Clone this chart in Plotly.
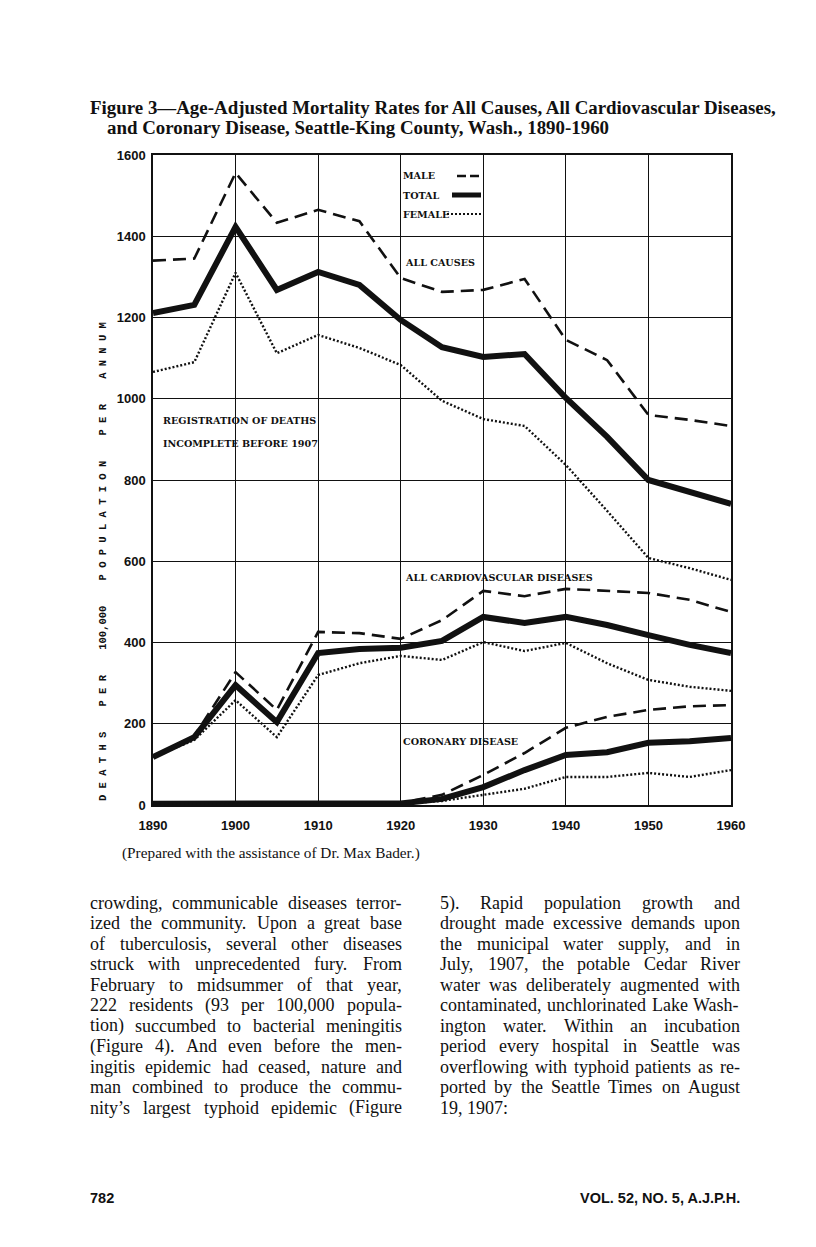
import plotly.graph_objects as go

# ---------------- data ----------------
years = [1890, 1895, 1900, 1905, 1910, 1915, 1920, 1925, 1930, 1935, 1940, 1945, 1950, 1955, 1960]

all_male = [1340, 1345, 1556, 1433, 1465, 1437, 1297, 1263, 1268, 1295, 1145, 1095, 960, 948, 933]
all_total = [1211, 1231, 1423, 1268, 1312, 1280, 1194, 1127, 1103, 1110, 1002, 906, 800, 770, 741]
all_female = [1066, 1090, 1310, 1112, 1157, 1125, 1083, 995, 950, 933, 837, 724, 608, 583, 554]

cv_male = [120, 170, 327, 234, 426, 423, 409, 455, 527, 514, 532, 527, 522, 505, 475]
cv_total = [118, 167, 295, 204, 374, 384, 387, 404, 463, 448, 463, 443, 418, 394, 374]
cv_female = [118, 160, 258, 167, 320, 349, 367, 357, 401, 379, 399, 349, 308, 291, 281]

cor_male = [5, 4, 4, 4, 6, 5, 5, 25, 74, 128, 190, 217, 234, 243, 246]
cor_total = [3, 3, 3, 3, 5, 4, 4, 15, 44, 86, 123, 130, 153, 157, 165]
cor_female = [2, 2, 2, 2, 3, 3, 3, 10, 25, 40, 69, 69, 79, 69, 86]

x_ticks = [1890, 1900, 1910, 1920, 1930, 1940, 1950, 1960]
y_ticks = [0, 200, 400, 600, 800, 1000, 1200, 1400, 1600]

title_lines = [
    "Figure 3\u2014Age-Adjusted Mortality Rates for All Causes, All Cardiovascular Diseases,",
    "and Coronary Disease, Seattle-King County, Wash., 1890-1960",
]
caption = "(Prepared with the assistance of Dr. Max Bader.)"
y_title_words = ["DEATHS", "PER", "100,000", "POPULATION", "PER", "ANNUM"]

left_col = [
    "crowding, communicable diseases terror-",
    "ized the community. Upon a great base",
    "of tuberculosis, several other diseases",
    "struck with unprecedented fury.  From",
    "February to midsummer of that year,",
    "222 residents (93 per 100,000 popula-",
    "tion) succumbed to bacterial meningitis",
    "(Figure 4). And even before the men-",
    "ingitis epidemic had ceased, nature and",
    "man combined to produce the commu-",
    "nity\u2019s largest typhoid epidemic (Figure",
]
right_col = [
    "5). Rapid population growth and",
    "drought made excessive demands upon",
    "the municipal water supply, and in",
    "July, 1907, the potable Cedar River",
    "water was deliberately augmented with",
    "contaminated, unchlorinated Lake Wash-",
    "ington water. Within an incubation",
    "period every hospital in Seattle was",
    "overflowing with typhoid patients as re-",
    "ported by the Seattle Times on August",
    "19, 1907:",
]
footer_left = "782"
footer_right = "VOL. 52, NO. 5, A.J.P.H."

# ---------------- layout geometry (page pixels) ----------------
OFF = 8                      # default body margin of the html page
W, H = 816 - OFF, 1247 - OFF
L, R, T, B = 153, 731, 155, 805   # plot area in page pixels


def px(x):
    return (x - L) / (R - L)


def py(y):
    return (B - y) / (B - T)


BLACK = "#111111"
SERIF = "Liberation Serif"
SLAB = "DejaVu Serif"
SANS = "Liberation Sans"

fig = go.Figure()

styles = {
    "male": dict(color=BLACK, width=2.6, dash="13px,7px"),
    "total": dict(color=BLACK, width=6),
    "female": dict(color=BLACK, width=2.4, dash="2px,2px"),
}
for group in [(all_male, all_total, all_female), (cv_male, cv_total, cv_female),
              (cor_male, cor_total, cor_female)]:
    for vals, key in zip(group, ["male", "total", "female"]):
        fig.add_trace(go.Scatter(x=years, y=vals, mode="lines", line=styles[key],
                                 showlegend=False, hoverinfo="skip"))

ann = []


def text(x, y, s, size, family=SERIF, bold=False, anchor="left", angle=0, color=BLACK):
    ann.append(dict(xref="paper", yref="paper", x=px(x), y=py(y), text=s,
                    showarrow=False, xanchor=anchor, yanchor="middle",
                    textangle=angle, borderpad=0, borderwidth=0,
                    font=dict(family=family, size=size, color=color,
                              weight="bold" if bold else "normal")))


# title
text(90, 108, title_lines[0], 18.9, bold=True)
text(107, 127, title_lines[1], 18.9, bold=True)

# in-chart labels
lab = 9.6
text(403, 176, "MALE", lab, family=SLAB, bold=True)
text(403, 195, "TOTAL", lab, family=SLAB, bold=True)
text(403, 214, "FEMALE", lab, family=SLAB, bold=True)
text(405, 262, "ALL CAUSES", lab, family=SLAB, bold=True)
text(163, 421, "REGISTRATION OF DEATHS", lab, family=SLAB, bold=True)
text(163, 443, "INCOMPLETE BEFORE 1907", lab, family=SLAB, bold=True)
text(405, 577, "ALL CARDIOVASCULAR DISEASES", lab, family=SLAB, bold=True)
text(403, 741, "CORONARY DISEASE", lab, family=SLAB, bold=True)

# y axis title (letter-spaced)
nb = "\u00a0"
spaced = []
for w in y_title_words:
    spaced.append(w if w[0].isdigit() else nb.join(w))
ytitle = (nb * 4).join(spaced)
text(103, 562, ytitle, 10.5, family="Liberation Mono", bold=True, anchor="center", angle=-90)

# caption
text(122, 853, caption, 15.3)

# body text with justification (Times metrics)
TW = {' ': 250, ',': 250, '.': 250, '-': 333, '(': 333, ')': 333, ':': 278, '\u2019': 333,
      'a': 444, 'b': 500, 'c': 444, 'd': 500, 'e': 444, 'f': 333, 'g': 500, 'h': 500, 'i': 278,
      'j': 278, 'k': 500, 'l': 278, 'm': 778, 'n': 500, 'o': 500, 'p': 500, 'q': 500, 'r': 333,
      's': 389, 't': 278, 'u': 500, 'v': 500, 'w': 722, 'x': 500, 'y': 500, 'z': 444,
      'A': 722, 'B': 667, 'C': 667, 'D': 722, 'E': 611, 'F': 556, 'G': 722, 'H': 722, 'I': 333,
      'J': 389, 'K': 722, 'L': 611, 'M': 889, 'N': 722, 'O': 722, 'P': 556, 'Q': 722, 'R': 667,
      'S': 556, 'T': 611, 'U': 722, 'V': 722, 'W': 944, 'X': 722, 'Y': 722, 'Z': 611}
BODY = 18


def wid(s):
    return sum(TW.get(c, 500) for c in s) / 1000 * BODY


def column(lines, x0, width, y0, lh, justify_last):
    for i, line in enumerate(lines):
        y = y0 + i * lh
        words = line.split()
        last = i == len(lines) - 1
        if (last and not justify_last) or len(words) < 2:
            text(x0, y, line, BODY)
            continue
        total = sum(wid(w) for w in words)
        gap = (width - total) / (len(words) - 1)
        x = x0
        for w in words:
            text(x, y, w, BODY)
            x += wid(w) + gap


column(left_col, 90, 312, 903, 20.45, True)
column(right_col, 440, 300, 903, 20.45, False)

# footer
text(90, 1198, footer_left, 14.5, family=SANS, bold=True)
text(740, 1198, footer_right, 14.5, family=SANS, bold=True, anchor="right")

# legend keys
shapes = [
    dict(type="line", xref="paper", yref="paper", x0=px(457), x1=px(481), y0=py(176), y1=py(176),
         line=dict(color=BLACK, width=2.6, dash="9px,4px")),
    dict(type="line", xref="paper", yref="paper", x0=px(452), x1=px(481), y0=py(195), y1=py(195),
         line=dict(color=BLACK, width=5)),
    dict(type="line", xref="paper", yref="paper", x0=px(447), x1=px(481), y0=py(214), y1=py(214),
         line=dict(color=BLACK, width=2.2, dash="2px,2px")),
]

fig.update_layout(
    width=W, height=H, autosize=False,
    margin=dict(l=L - OFF, r=W - (R - OFF), t=T - OFF, b=H - (B - OFF)),
    paper_bgcolor="white", plot_bgcolor="white",
    annotations=ann, shapes=shapes, showlegend=False,
)
fig.update_xaxes(range=[1890, 1960], tickvals=x_ticks, ticktext=[str(v) for v in x_ticks],
                 showgrid=True, gridcolor=BLACK, gridwidth=1, showline=True, linecolor=BLACK,
                 linewidth=1.5, mirror=True, zeroline=False, ticks="", ticklabelstandoff=8,
                 tickfont=dict(family=SANS, size=13, color=BLACK, weight="bold"))
fig.update_yaxes(range=[0, 1600], tickvals=y_ticks, ticktext=[str(v) for v in y_ticks],
                 showgrid=True, gridcolor=BLACK, gridwidth=1, showline=True, linecolor=BLACK,
                 linewidth=1.5, mirror=True, zeroline=False, ticks="", ticklabelstandoff=3,
                 tickfont=dict(family=SANS, size=13, color=BLACK, weight="bold"))

fig.write_html("out.html")
